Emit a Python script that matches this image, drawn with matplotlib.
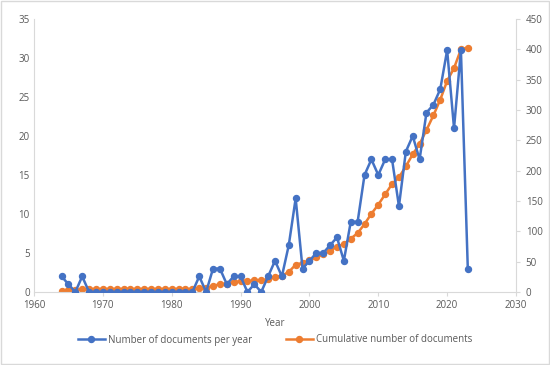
import matplotlib.pyplot as plt
import numpy as np
from matplotlib.patches import Rectangle

years = list(range(1964, 2024))
docs_per_year = [2, 1, 0, 2, 0, 0, 0, 0, 0, 0,
                 0, 0, 0, 0, 0, 0, 0, 0, 0, 0,
                 2, 0, 3, 3, 1, 2, 2, 0, 1, 0,
                 2, 4, 2, 6, 12, 3, 4, 5, 5, 6,
                 7, 4, 9, 9, 15, 17, 15, 17, 17, 11,
                 18, 20, 17, 23, 24, 26, 31, 21, 31, 3]
cumulative = np.cumsum(docs_per_year)

blue = "#4472C4"
orange = "#ED7D31"
axis_col = "#D9D9D9"
text_col = "#595959"

plt.rcParams["font.family"] = ["Open Sans", "DejaVu Sans"]
plt.rcParams["font.size"] = 7

fig = plt.figure(figsize=(5.5, 3.65), dpi=100)
ax = fig.add_axes([34 / 550, 1 - 292 / 365, (516 - 34) / 550, (292 - 19) / 365])
ax2 = ax.twinx()

l1, = ax.plot(years, docs_per_year, color=blue, lw=1.8, marker="o", ms=4.3,
              label="Number of documents per year", zorder=3)
l2, = ax2.plot(years, cumulative, color=orange, lw=1.8, marker="o", ms=4.3,
               label="Cumulative number of documents", zorder=2)
ax.set_zorder(ax2.get_zorder() + 1)
ax.patch.set_visible(False)

ax.set_xlim(1960, 2030)
ax.set_ylim(0, 35)
ax2.set_ylim(0, 450)
ax.set_xticks(range(1960, 2031, 10))
ax.set_yticks(range(0, 36, 5))
ax2.set_yticks(range(0, 451, 50))

for a in (ax, ax2):
    for s in a.spines.values():
        s.set_visible(False)
    a.tick_params(colors=text_col, labelsize=7, length=0, pad=3)
ax.spines["left"].set_visible(True)
ax.spines["left"].set_color(axis_col)
ax.spines["bottom"].set_visible(True)
ax.spines["bottom"].set_color(axis_col)
ax2.spines["right"].set_visible(True)
ax2.spines["right"].set_color(axis_col)
ax2.tick_params(axis="y", length=3, color=axis_col, pad=4)
ax.tick_params(axis="x", length=3, color=axis_col, pad=3)

ax.set_xlabel("Year", color=text_col, fontsize=7, labelpad=5)

fig.legend(handles=[l1, l2], loc="center", bbox_to_anchor=(0.5, 1 - 340 / 365),
           ncol=2, frameon=False, fontsize=7, labelcolor=text_col,
           handlelength=2.8, columnspacing=3.5, handletextpad=0.3)

fig.patches.append(Rectangle((0.002, 0.004), 0.996, 0.992, transform=fig.transFigure,
                             fill=False, edgecolor=axis_col, lw=1))

fig.savefig("out.png", dpi=100)
